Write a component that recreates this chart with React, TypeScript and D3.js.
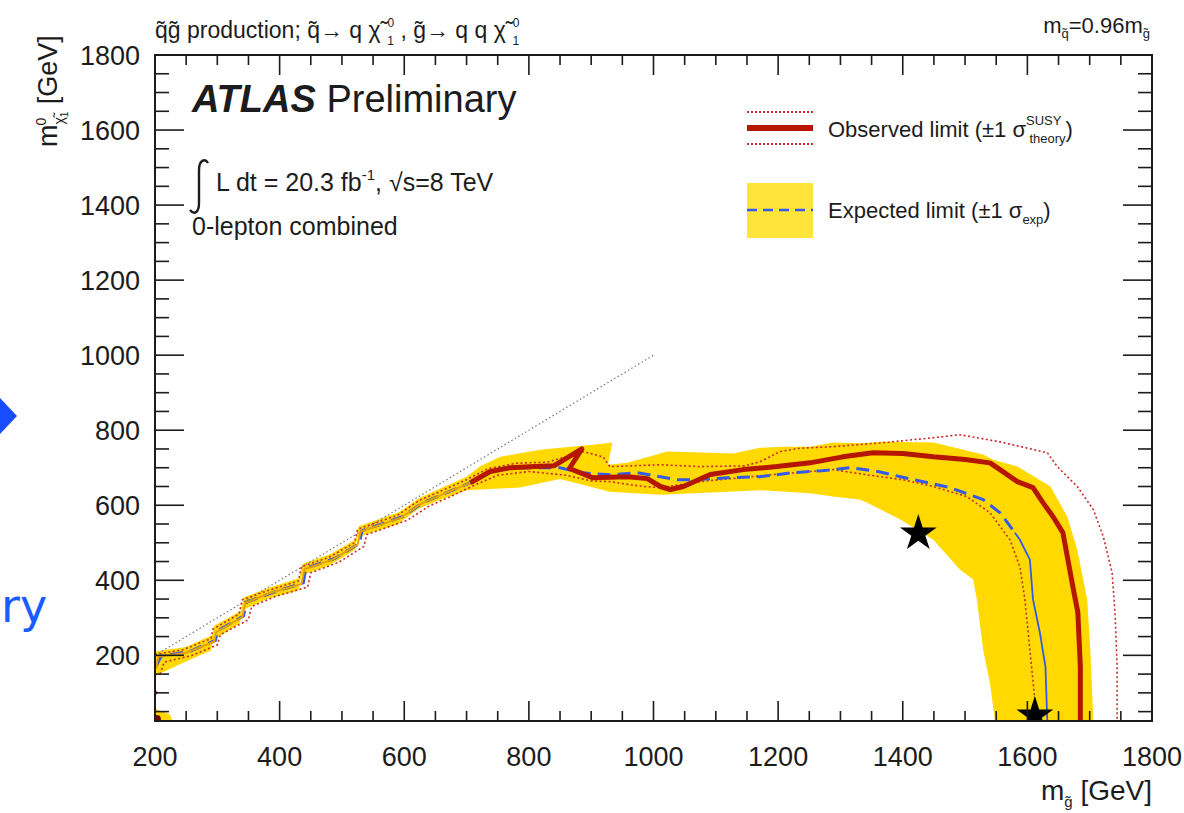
import React from 'react';
import * as d3 from 'd3';

type P = [number, number];

// contours as [m_gluino, m_neutralino] in GeV
const observed: P[] = [
  [202, 165], [205, 196], [250, 207], [295, 237], [298, 262], [340, 302], [345, 340],
  [385, 366], [435, 390], [440, 430], [485, 455], [525, 495], [530, 530], [595, 567],
  [628, 605], [660, 628], [706, 660], [738, 690], [770, 700], [810, 703], [840, 705],
  [885, 750], [865, 698], [903, 673], [958, 676], [990, 671], [1011, 650], [1027, 642],
  [1048, 650], [1091, 682], [1144, 695], [1198, 703], [1251, 713], [1304, 729],
  [1352, 740], [1400, 738], [1449, 729], [1500, 722], [1540, 713], [1556, 695],
  [1584, 663], [1609, 647], [1625, 607], [1641, 570], [1657, 527], [1673, 383],
  [1681, 314], [1685, 170], [1685, 25],
];
const observedThickFrom = 16; // along the diagonal the observed line is hidden in the band

const observedUp: P[] = [
  [200, 202], [245, 215], [290, 245], [293, 270], [335, 310], [340, 348], [380, 372],
  [430, 398], [435, 436], [480, 462], [520, 500], [525, 536], [590, 574], [623, 612],
  [655, 635], [700, 668], [735, 698], [780, 712], [830, 715], [887, 743], [919, 729],
  [930, 703], [1011, 708], [1075, 703], [1147, 705], [1171, 716], [1203, 743],
  [1235, 752], [1288, 756], [1369, 767], [1449, 780], [1492, 788], [1556, 769],
  [1632, 740], [1648, 703], [1680, 650], [1706, 588], [1722, 516], [1736, 420],
  [1741, 303], [1744, 170], [1744, 25],
];

const observedDown: P[] = [
  [208, 150], [215, 182], [260, 200], [300, 228], [305, 255], [350, 295], [355, 330],
  [395, 358], [445, 382], [450, 420], [495, 448], [535, 490], [540, 522], [605, 560],
  [640, 598], [670, 620], [715, 655], [750, 680], [800, 690], [860, 680], [900, 665],
  [930, 663], [983, 650], [1011, 647], [1075, 663], [1180, 680], [1288, 695],
  [1343, 681], [1400, 668], [1449, 650], [1503, 623], [1540, 580], [1572, 508],
  [1588, 436], [1596, 349], [1604, 215], [1612, 82], [1616, 25],
];

const expected: P[] = [
  [202, 172], [210, 198], [255, 210], [297, 240], [300, 265], [342, 305], [347, 342],
  [390, 368], [438, 393], [442, 432], [488, 458], [528, 498], [532, 532], [598, 570],
  [630, 607], [663, 630], [710, 663], [745, 698], [800, 700], [850, 700], [882, 687],
  [930, 681], [974, 687], [1011, 676], [1038, 668], [1064, 668], [1118, 673],
  [1171, 676], [1224, 687], [1270, 692], [1316, 700], [1360, 690], [1396, 676],
  [1476, 647], [1529, 615], [1556, 580], [1580, 527],
  [1588, 508], [1604, 455], [1609, 349], [1620, 261], [1629, 170], [1632, 25],
];
const expectedSolidFrom = 36; // tail of the expected line is drawn thin and solid

const bandUpper: P[] = [
  [200, 210], [250, 222], [292, 254], [295, 279], [338, 319], [342, 354], [383, 380],
  [432, 406], [437, 444], [482, 470], [522, 509], [527, 544], [592, 582], [625, 620],
  [657, 644], [700, 676], [722, 704], [754, 729], [818, 748], [850, 753], [903, 761],
  [934, 767], [927, 708], [958, 713], [1022, 743], [1091, 740], [1128, 738],
  [1171, 753], [1208, 756], [1251, 756], [1288, 767], [1332, 765], [1369, 769],
  [1449, 767], [1529, 735], [1545, 721], [1584, 703], [1637, 650], [1664, 570],
  [1680, 482], [1696, 349], [1701, 215], [1706, 25],
];

const bandLower: P[] = [
  [200, 145], [245, 180], [290, 213], [293, 240], [336, 285], [340, 320], [380, 350],
  [430, 373], [435, 413], [480, 440], [520, 480], [525, 515], [590, 550], [622, 590],
  [655, 613], [700, 640], [722, 642], [786, 647], [850, 670], [930, 636], [1011, 628],
  [1064, 632], [1120, 636], [1171, 640], [1251, 632], [1288, 623], [1332, 615],
  [1343, 607], [1396, 562], [1449, 508], [1492, 428], [1513, 402], [1519, 349],
  [1529, 215], [1540, 127], [1548, 25],
];

const cornerBlob: P[] = [[200, 25], [228, 25], [224, 42], [200, 58]];
const diagonal: P[] = [[200, 200], [1000, 1000]];
const benchmarks: P[] = [[1425, 525], [1612, 40]];

const xTicks = [200, 400, 600, 800, 1000, 1200, 1400, 1600, 1800];
const yTicks = [200, 400, 600, 800, 1000, 1200, 1400, 1600, 1800];

const W = 1184;
const H = 813;
const left = 155, right = 1152, top = 55, bottom = 721;
const font = 'Liberation Sans, Arial, Helvetica, sans-serif';
const ink = '#1c1c1c';
const yellow = '#ffd900';
const red = '#b41600';
const redDot = '#cc2a2a';
const blue = '#3559e8';

// neutralino symbol with superscript 0 and subscript 1 (baseline restored after)
const Chi = () => (
  <>
    <tspan>χ̃</tspan>
    <tspan fontSize={12} dx={7} dy={-11}>0</tspan>
    <tspan fontSize={12} dx={-7} dy={18}>1</tspan>
    <tspan dy={-7}> </tspan>
  </>
);

export default function App() {
  const x = d3.scaleLinear().domain([200, 1800]).range([left, right]);
  const y = d3.scaleLinear().domain([25, 1800]).range([bottom, top]);
  const line = d3.line<P>().x(d => x(d[0])).y(d => y(d[1]));

  const band = [...bandUpper, ...bandLower.slice().reverse()];
  const xMinor = d3.range(200, 1801, 50);
  const yMinor = d3.range(50, 1801, 50);
  const star = d3.symbol().type(d3.symbolStar).size(420)();

  return (
    <div style={{ position: 'absolute', left: 0, top: 0 }}>
      <svg width={W} height={H} style={{ display: 'block', background: '#fff' }} fontFamily={font}>
        <defs>
          <clipPath id="plot">
            <rect x={left} y={top} width={right - left} height={bottom - top} />
          </clipPath>
        </defs>

        {/* slide leftovers on the left edge */}
        <path d="M0,398 L17,416 L0,434 Z" fill="#1a4dff" />
        <text x={1} y={622} fontSize={46} fill="#1a5cff" fontFamily="DejaVu Sans, sans-serif">ry</text>

        <g clipPath="url(#plot)">
          <path d={line(band) + 'Z'} fill={yellow} />
          <path d={line(cornerBlob) + 'Z'} fill={yellow} />
          <circle cx={x(203)} cy={y(30)} r={4} fill="#6a0a00" />
          <circle cx={x(201)} cy={y(100)} r={2} fill={redDot} />
          <path d={line(diagonal)!} fill="none" stroke="#777" strokeWidth={1.2} strokeDasharray="1.5,2.5" />
          <path d={line(observedUp)!} fill="none" stroke={redDot} strokeWidth={1.6} strokeDasharray="2,2.5" />
          <path d={line(observedDown)!} fill="none" stroke={redDot} strokeWidth={1.6} strokeDasharray="2,2.5" />
          <path d={line(expected.slice(0, expectedSolidFrom + 1))!} fill="none" stroke={blue} strokeWidth={3} strokeDasharray="13,7" />
          <path d={line(expected.slice(expectedSolidFrom))!} fill="none" stroke={blue} strokeWidth={1.8} />
          <path d={line(observed.slice(0, observedThickFrom + 1))!} fill="none" stroke="#e8a000" strokeWidth={2} />
          <path d={line(observed.slice(observedThickFrom))!} fill="none" stroke={red} strokeWidth={5} strokeLinejoin="round" />
          {benchmarks.map((d, i) => (
            <path key={i} d={star!} transform={`translate(${x(d[0])},${y(d[1])})`} fill="#000" />
          ))}
        </g>

        {/* frame and ticks */}
        <rect x={left} y={top} width={right - left} height={bottom - top} fill="none" stroke={ink} strokeWidth={2} />
        {xMinor.map(v => {
          const len = v % 200 === 0 ? 20 : 10;
          return (
            <g key={'x' + v} stroke={ink} strokeWidth={1.6}>
              <line x1={x(v)} x2={x(v)} y1={bottom} y2={bottom - len} />
              <line x1={x(v)} x2={x(v)} y1={top} y2={top + len} />
            </g>
          );
        })}
        {yMinor.map(v => {
          const len = v % 200 === 0 ? 29 : 14;
          return (
            <g key={'y' + v} stroke={ink} strokeWidth={1.6}>
              <line x1={left} x2={left + len} y1={y(v)} y2={y(v)} />
              <line x1={right} x2={right - len} y1={y(v)} y2={y(v)} />
            </g>
          );
        })}
        {xTicks.map(v => (
          <text key={'xl' + v} x={x(v)} y={766} fontSize={27} fill={ink} textAnchor="middle">{v}</text>
        ))}
        {yTicks.map(v => (
          <text key={'yl' + v} x={140} y={y(v)} dy="0.36em" fontSize={27} fill={ink} textAnchor="end">{v}</text>
        ))}

        {/* axis titles */}
        <text x={1152} y={800} fontSize={28} fill={ink} textAnchor="end">
          m<tspan fontSize={15} dy={7}>g̃</tspan><tspan dy={-7}> [GeV]</tspan>
        </text>
        <text transform="translate(57,147) rotate(-90)" fontSize={27} fill={ink}>
          m<tspan fontSize={14} dy={7}>χ̃</tspan><tspan fontSize={10} dy={4}>1</tspan>
          <tspan fontSize={14} dx={-14} dy={-22}>0</tspan><tspan dy={11} dx={6}> [GeV]</tspan>
        </text>

        {/* header */}
        <text x={155} y={38} fontSize={23} fill={ink}>
          <tspan>q̃g̃ production;  q̃→  q  </tspan><Chi /><tspan>, g̃→  q  q  </tspan><Chi />
        </text>
        <text x={1150} y={33} fontSize={22} fill={ink} textAnchor="end">
          m<tspan fontSize={13} dy={5}>q̃</tspan><tspan dy={-5}>=0.96m</tspan><tspan fontSize={13} dy={5}>g̃</tspan>
        </text>

        {/* labels */}
        <text x={192} y={112} fontSize={38} fill={ink}>
          <tspan fontWeight="bold" fontStyle="italic">ATLAS</tspan> Preliminary
        </text>
        <path d="M208,163 C205,158 199,160 199,170 L199,203 C199,213 194,215 190,210" fill="none" stroke={ink} strokeWidth={2.4} />
        <text x={216} y={191} fontSize={25} fill={ink}>
          L dt = 20.3 fb<tspan fontSize={15} dy={-11}>-1</tspan><tspan dy={11}>,  √s=8 TeV</tspan>
        </text>
        <text x={192} y={235} fontSize={25} fill={ink}>0-lepton combined</text>

        {/* legend */}
        <line x1={747} x2={813} y1={112} y2={112} stroke={redDot} strokeWidth={2} strokeDasharray="2,2" />
        <line x1={747} x2={813} y1={128} y2={128} stroke={red} strokeWidth={6} />
        <line x1={747} x2={813} y1={144} y2={144} stroke={redDot} strokeWidth={2} strokeDasharray="2,2" />
        <text x={828} y={137} fontSize={22} fill={ink}>
          Observed limit (±1 σ<tspan fontSize={13} dy={-12}>SUSY</tspan><tspan fontSize={13} dx={-32} dy={18}>theory</tspan><tspan dy={-6}>)</tspan>
        </text>
        <rect x={747} y={183} width={66} height={55} fill="#ffe53a" />
        <line x1={747} x2={813} y1={210} y2={210} stroke={blue} strokeWidth={2.5} strokeDasharray="10,6" />
        <text x={828} y={218} fontSize={22} fill={ink}>
          Expected limit (±1 σ<tspan fontSize={13} dy={6}>exp</tspan><tspan dy={-6}>)</tspan>
        </text>
      </svg>
    </div>
  );
}
